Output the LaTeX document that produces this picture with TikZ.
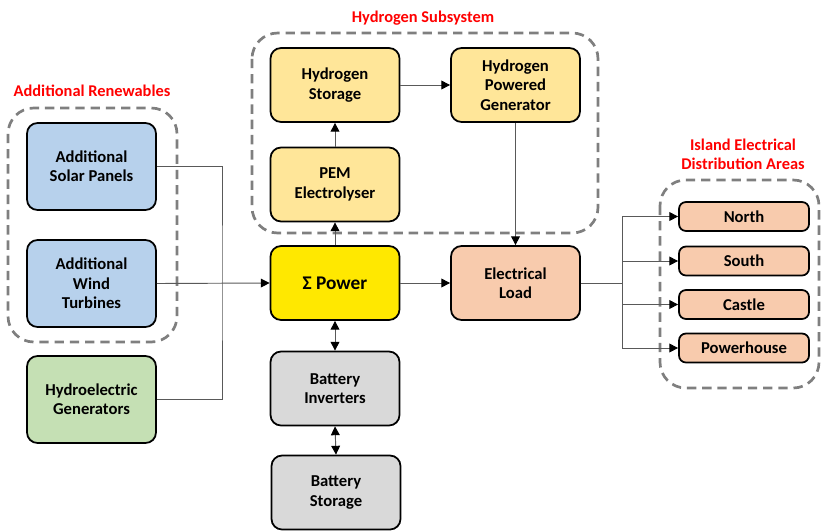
\documentclass[tikz,border=0pt]{standalone}
\usepackage{fontspec}
\setmainfont{Carlito}
\usetikzlibrary{arrows.meta}
\definecolor{renewblue}{HTML}{B7D1EC}
\definecolor{hydrogreen}{HTML}{C5E0B4}
\definecolor{gasyellow}{HTML}{FFE699}
\definecolor{sumyellow}{HTML}{FFE800}
\definecolor{loadpeach}{HTML}{F8CBAD}
\definecolor{batgrey}{HTML}{D9D9D9}
\definecolor{groupgrey}{HTML}{7F7F7F}
\definecolor{wiregrey}{HTML}{595959}
\tikzset{
  blk/.style={draw, line width=1.5pt, rounded corners=9pt, inner sep=0pt,
    align=center, font=\fontsize{14.2}{16.5}\selectfont\bfseries,
    minimum width=3.87cm, minimum height=2.22cm},
  tall/.style={blk, minimum height=2.61cm},
  area/.style={blk, rounded corners=6pt, minimum width=3.9cm, minimum height=0.87cm},
  group/.style={draw=groupgrey, line width=2.3pt, dash pattern=on 8pt off 5pt, rounded corners=22pt},
  grouplabel/.style={text=red, align=center, font=\fontsize{14}{16.5}\selectfont\bfseries},
  wire/.style={draw=wiregrey, line width=0.8pt}
}
\begin{document}
\begin{tikzpicture}[x=0.03cm, y=-0.03cm, >={Triangle[length=7.5pt,width=7.5pt,color=black]}]
  \useasboundingbox (0,0) rectangle (821,530);
  % groups
  \draw[group] (8,108) rectangle (177,342);
  \draw[group] (252,33) rectangle (598,233);
  \draw[group] (660,180) rectangle (819,388);
  \node[grouplabel] (lrenew) at (92,91) {Additional Renewables};
  \node[grouplabel] (lhydrogen) at (423,18) {Hydrogen Subsystem};
  \node[grouplabel] (larea) at (743,154) {Island Electrical\\Distribution Areas};
  % sources
  \node[tall, fill=renewblue] (solar) at (91.5,166.5) {Additional\\Solar Panels};
  \node[tall, fill=renewblue] (wind) at (91.5,283.5) {Additional\\Wind\\Turbines};
  \node[tall, fill=hydrogreen] (hydro) at (91.5,399.5) {Hydroelectric\\Generators};
  % hydrogen
  \node[blk, fill=gasyellow] (h2store) at (335,85) {Hydrogen\\Storage};
  \node[blk, fill=gasyellow] (h2gen) at (515.5,85) {Hydrogen\\Powered\\Generator};
  \node[blk, fill=gasyellow] (pem) at (335,184.5) {PEM\\Electrolyser};
  % centre
  \node[blk, fill=sumyellow, font=\fontsize{16.5}{19}\selectfont\bfseries] (power) at (335,283) {Σ Power};
  \node[blk, fill=loadpeach] (load) at (515.5,283) {Electrical\\Load};
  \node[blk, fill=batgrey] (batinv) at (335,388.5) {Battery\\Inverters};
  \node[blk, fill=batgrey] (batstore) at (336,492.5) {Battery\\Storage};
  % distribution areas
  \node[area, fill=loadpeach] (north) at (744,216.5) {North};
  \node[area, fill=loadpeach] (south) at (744,261) {South};
  \node[area, fill=loadpeach] (castle) at (744,304.5) {Castle};
  \node[area, fill=loadpeach] (powerhouse) at (744,348) {Powerhouse};
  \coordinate (bus) at (222,283);
  \coordinate (split) at (622,283);
  % connectors
  \draw[wire] (solar.east) -| (bus) |- (hydro.east);
  \draw[wire,->] (wind.east) -- (power.west);
  \draw[wire,->] (power.north) -- (pem.south);
  \draw[wire,->] (pem.north) -- (h2store.south);
  \draw[wire,->] (h2store.east) -- (h2gen.west);
  \draw[wire,->] (h2gen.south) -- (load.north);
  \draw[wire,->] (power.east) -- (load.west);
  \draw[wire,<->] (power.south) -- (batinv.north);
  \draw[wire,<->] (batinv.south) -- (batstore.north);
  \draw[wire] (load.east) -- (split);
  \foreach \a in {north,south,castle,powerhouse}
    \draw[wire,->] (split) |- (\a.west);
\end{tikzpicture}
\end{document}
